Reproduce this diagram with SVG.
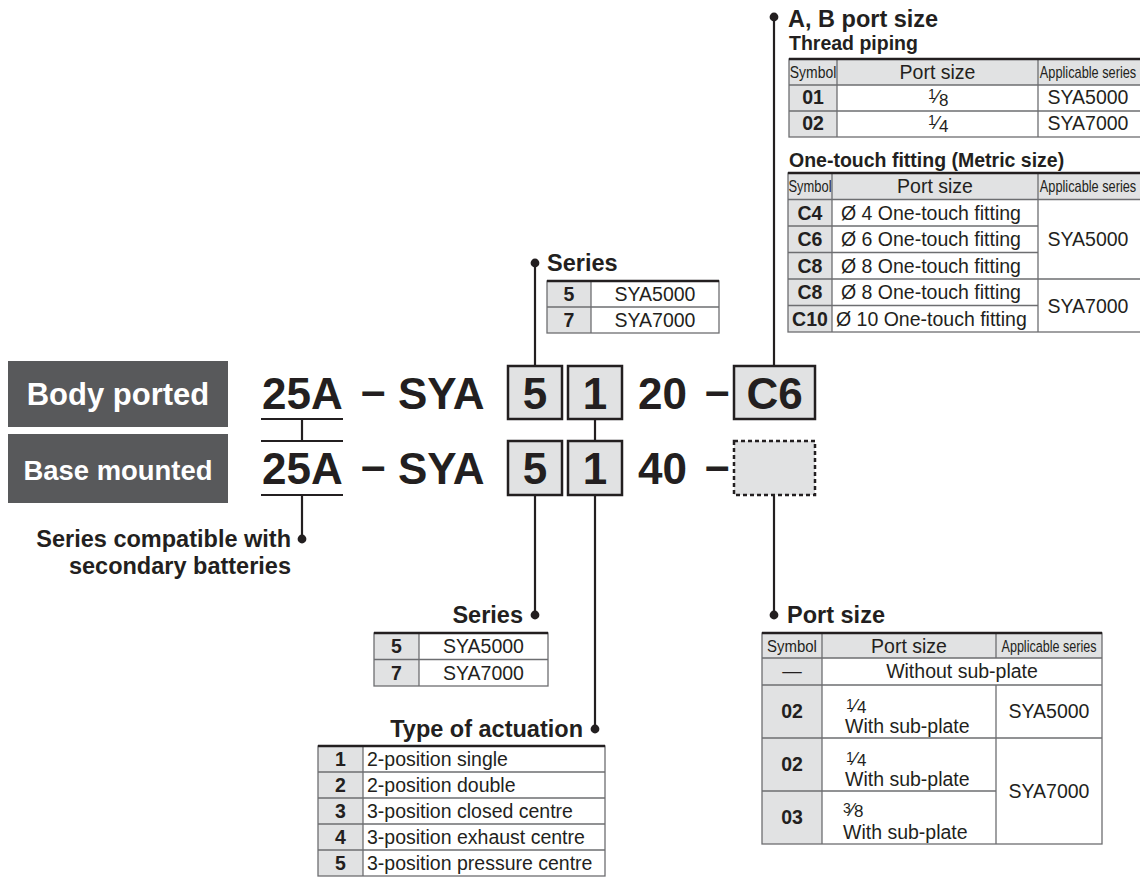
<svg xmlns="http://www.w3.org/2000/svg" width="1140" height="877" viewBox="0 0 1140 877">
<style>
text{font-family:"Liberation Sans",Arial,Helvetica,sans-serif;fill:#231f20}
.code{font-size:44px;font-weight:bold}
.h{font-size:23.5px;font-weight:bold}
.sh{font-size:19.5px;font-weight:bold}
.c{font-size:19.5px}
.cb{font-size:19.5px;font-weight:bold}
.n{font-size:17px}
.fr{font-size:17px}
.m{text-anchor:middle}
.e{text-anchor:end}
.lbl{fill:#58595b}
.lt{fill:#ffffff;font-weight:bold}
.cell{fill:#e1e2e3}
.grid{stroke:#6d6e71;stroke-width:1.3;fill:none}
.top{stroke:#231f20;stroke-width:2.6}
.conn{stroke:#231f20;stroke-width:2.2;fill:none}
.dot{fill:#231f20}
.box{fill:#e1e2e3;stroke:#231f20;stroke-width:2.5}
.dash{stroke-dasharray:4 3}
</style>
<rect width="1140" height="877" fill="#ffffff"/>

<g id="connectors">
<line class="conn" x1="535" y1="263" x2="535" y2="366"/>
<line class="conn" x1="774" y1="17" x2="774" y2="366"/>
<line class="conn" x1="261" y1="419" x2="343" y2="419"/>
<line class="conn" x1="261" y1="441" x2="343" y2="441"/>
<line class="conn" x1="302" y1="419" x2="302" y2="441"/>
<line class="conn" x1="595" y1="419" x2="595" y2="441"/>
<line class="conn" x1="261" y1="495" x2="343" y2="495"/>
<line class="conn" x1="302" y1="495" x2="302" y2="539"/>
<line class="conn" x1="535" y1="495" x2="535" y2="615"/>
<line class="conn" x1="595" y1="495" x2="595" y2="729"/>
<line class="conn" x1="774" y1="495" x2="774" y2="615"/>
<circle class="dot" cx="535" cy="263" r="4.4"/>
<circle class="dot" cx="774" cy="17" r="4.4"/>
<circle class="dot" cx="302" cy="539" r="4.4"/>
<circle class="dot" cx="535" cy="615" r="4.4"/>
<circle class="dot" cx="595" cy="729" r="4.4"/>
<circle class="dot" cx="774" cy="615" r="4.4"/>
</g>

<g id="label-body-ported">
<rect class="lbl" x="8" y="361" width="220" height="66"/>
<text class="lt m" x="118" y="405" font-size="31">Body ported</text>
</g>
<g id="label-base-mounted">
<rect class="lbl" x="8" y="434" width="220" height="69"/>
<text class="lt m" x="118" y="480" font-size="28" textLength="189" lengthAdjust="spacingAndGlyphs">Base mounted</text>
</g>

<g id="code-body-ported">
<text class="code" x="262" y="409">25A</text>
<text class="code" x="361" y="406">–</text>
<text class="code" x="398" y="409">SYA</text>
<rect class="box" x="508" y="366" width="54" height="53"/>
<text class="code m" x="535" y="409">5</text>
<rect class="box" x="568" y="366" width="54" height="53"/>
<text class="code m" x="595" y="409">1</text>
<text class="code" x="638" y="409">20</text>
<text class="code" x="705" y="406">–</text>
<rect class="box" x="734" y="366" width="81" height="53"/>
<text class="code m" x="774.5" y="409">C6</text>
</g>

<g id="code-base-mounted">
<text class="code" x="262" y="484">25A</text>
<text class="code" x="361" y="481">–</text>
<text class="code" x="398" y="484">SYA</text>
<rect class="box" x="508" y="441" width="54" height="54"/>
<text class="code m" x="535" y="484">5</text>
<rect class="box" x="568" y="441" width="54" height="54"/>
<text class="code m" x="595" y="484">1</text>
<text class="code" x="638" y="484">40</text>
<text class="code" x="705" y="481">–</text>
<rect class="box dash" x="734" y="441" width="81" height="54"/>
</g>

<g id="note-secondary-batteries">
<text class="h e" x="291" y="547">Series compatible with</text>
<text class="h e" x="291" y="574">secondary batteries</text>
</g>

<g id="table-series-top">
<text class="h" x="547" y="271">Series</text>
<rect class="cell" x="547" y="281" width="44" height="52"/>
<rect class="grid" x="547" y="281" width="172" height="52"/>
<line class="grid" x1="547" y1="307" x2="719" y2="307"/>
<line class="grid" x1="591" y1="281" x2="591" y2="333"/>
<line class="top" x1="547" y1="281" x2="719" y2="281"/>
<text class="cb m" x="569" y="301">5</text>
<text class="c m" x="655" y="301">SYA5000</text>
<text class="cb m" x="569" y="327">7</text>
<text class="c m" x="655" y="327">SYA7000</text>
</g>

<g id="table-ab-port-size">
<text class="h" x="788" y="27">A, B port size</text>
<text class="sh" x="789" y="50">Thread piping</text>
<rect class="cell" x="789" y="59" width="353" height="26"/>
<rect class="cell" x="789" y="85" width="48" height="52"/>
<rect class="grid" x="789" y="59" width="353" height="78"/>
<line class="grid" x1="789" y1="85" x2="1142" y2="85"/>
<line class="grid" x1="789" y1="111" x2="1142" y2="111"/>
<line class="grid" x1="837" y1="59" x2="837" y2="137"/>
<line class="grid" x1="1038" y1="59" x2="1038" y2="137"/>
<line class="top" x1="789" y1="59" x2="1142" y2="59"/>
<text class="n m" transform="translate(813 78) scale(0.82 1)">Symbol</text>
<text class="c m" x="937.5" y="79">Port size</text>
<text class="n m" transform="translate(1088 78) scale(0.75 1)">Applicable series</text>
<text class="cb m" x="813" y="104">01</text>
<text class="fr" x="928" y="104"><tspan font-size="14" dy="-5">1</tspan><tspan font-size="19" dy="4">⁄</tspan><tspan dy="3">8</tspan></text>
<text class="c m" x="1088" y="104">SYA5000</text>
<text class="cb m" x="813" y="130">02</text>
<text class="fr" x="928" y="130"><tspan font-size="14" dy="-5">1</tspan><tspan font-size="19" dy="4">⁄</tspan><tspan dy="3">4</tspan></text>
<text class="c m" x="1088" y="130">SYA7000</text>

<text class="sh" x="789" y="167">One-touch fitting (Metric size)</text>
<rect class="cell" x="788" y="173" width="354" height="26.5"/>
<rect class="cell" x="788" y="199.5" width="44" height="132.5"/>
<rect class="grid" x="788" y="173" width="354" height="159"/>
<line class="grid" x1="788" y1="199.5" x2="1142" y2="199.5"/>
<line class="grid" x1="788" y1="226" x2="1038" y2="226"/>
<line class="grid" x1="788" y1="252.5" x2="1038" y2="252.5"/>
<line class="grid" x1="788" y1="279" x2="1142" y2="279"/>
<line class="grid" x1="788" y1="305.5" x2="1038" y2="305.5"/>
<line class="grid" x1="832" y1="173" x2="832" y2="332"/>
<line class="grid" x1="1038" y1="173" x2="1038" y2="332"/>
<line class="top" x1="788" y1="173" x2="1142" y2="173"/>
<text class="n m" transform="translate(810 192) scale(0.76 1)">Symbol</text>
<text class="c m" x="935" y="193">Port size</text>
<text class="n m" transform="translate(1088 192) scale(0.75 1)">Applicable series</text>
<text class="cb m" x="810" y="219.5">C4</text>
<text class="c" x="841" y="219.5">Ø 4 One-touch fitting</text>
<text class="cb m" x="810" y="246">C6</text>
<text class="c" x="841" y="246">Ø 6 One-touch fitting</text>
<text class="cb m" x="810" y="272.5">C8</text>
<text class="c" x="841" y="272.5">Ø 8 One-touch fitting</text>
<text class="cb m" x="810" y="299">C8</text>
<text class="c" x="841" y="299">Ø 8 One-touch fitting</text>
<text class="cb m" x="810" y="325.5">C10</text>
<text class="c" x="836" y="325.5">Ø 10 One-touch fitting</text>
<text class="c m" x="1088" y="246">SYA5000</text>
<text class="c m" x="1088" y="312.5">SYA7000</text>
</g>

<g id="table-series-bottom">
<text class="h e" x="523" y="623">Series</text>
<rect class="cell" x="374" y="633" width="45" height="53"/>
<rect class="grid" x="374" y="633" width="174" height="53"/>
<line class="grid" x1="374" y1="659.5" x2="548" y2="659.5"/>
<line class="grid" x1="419" y1="633" x2="419" y2="686"/>
<line class="top" x1="374" y1="633" x2="548" y2="633"/>
<text class="cb m" x="396.5" y="653">5</text>
<text class="c m" x="483.5" y="653">SYA5000</text>
<text class="cb m" x="396.5" y="679.5">7</text>
<text class="c m" x="483.5" y="679.5">SYA7000</text>
</g>

<g id="table-actuation">
<text class="h e" x="583" y="737">Type of actuation</text>
<rect class="cell" x="318" y="746" width="45" height="130"/>
<rect class="grid" x="318" y="746" width="287" height="130"/>
<line class="grid" x1="318" y1="772" x2="605" y2="772"/>
<line class="grid" x1="318" y1="798" x2="605" y2="798"/>
<line class="grid" x1="318" y1="824" x2="605" y2="824"/>
<line class="grid" x1="318" y1="850" x2="605" y2="850"/>
<line class="grid" x1="363" y1="746" x2="363" y2="876"/>
<line class="top" x1="318" y1="746" x2="605" y2="746"/>
<text class="cb m" x="340.5" y="766">1</text>
<text class="c" x="367" y="766">2-position single</text>
<text class="cb m" x="340.5" y="792">2</text>
<text class="c" x="367" y="792">2-position double</text>
<text class="cb m" x="340.5" y="818">3</text>
<text class="c" x="367" y="818">3-position closed centre</text>
<text class="cb m" x="340.5" y="844">4</text>
<text class="c" x="367" y="844">3-position exhaust centre</text>
<text class="cb m" x="340.5" y="870">5</text>
<text class="c" x="367" y="870">3-position pressure centre</text>
</g>

<g id="table-port-size">
<text class="h" x="787" y="623">Port size</text>
<rect class="cell" x="762" y="633" width="340" height="25"/>
<rect class="cell" x="762" y="658" width="60" height="186"/>
<rect class="grid" x="762" y="633" width="340" height="211"/>
<line class="grid" x1="762" y1="658" x2="1102" y2="658"/>
<line class="grid" x1="762" y1="685" x2="1102" y2="685"/>
<line class="grid" x1="762" y1="738" x2="1102" y2="738"/>
<line class="grid" x1="762" y1="791" x2="996" y2="791"/>
<line class="grid" x1="822" y1="633" x2="822" y2="844"/>
<line class="grid" x1="996" y1="633" x2="996" y2="658"/>
<line class="grid" x1="996" y1="685" x2="996" y2="844"/>
<line class="top" x1="762" y1="633" x2="1102" y2="633"/>
<text class="n m" transform="translate(792 652) scale(0.88 1)">Symbol</text>
<text class="c m" x="909" y="653">Port size</text>
<text class="n m" transform="translate(1049 652) scale(0.74 1)">Applicable series</text>
<text class="c m" x="792" y="678">—</text>
<text class="c m" x="962" y="678">Without sub-plate</text>
<text class="cb m" x="792" y="718">02</text>
<text class="fr" x="846" y="713"><tspan font-size="14" dy="-4">1</tspan><tspan font-size="19" dy="3">⁄</tspan><tspan dy="1">4</tspan></text>
<text class="c" x="845" y="733">With sub-plate</text>
<text class="c m" x="1049" y="718">SYA5000</text>
<text class="cb m" x="792" y="771">02</text>
<text class="fr" x="846" y="766"><tspan font-size="14" dy="-4">1</tspan><tspan font-size="19" dy="3">⁄</tspan><tspan dy="1">4</tspan></text>
<text class="c" x="845" y="786">With sub-plate</text>
<text class="cb m" x="792" y="824">03</text>
<text class="fr" x="843" y="817"><tspan font-size="14" dy="-4">3</tspan><tspan font-size="19" dy="3">⁄</tspan><tspan dy="1">8</tspan></text>
<text class="c" x="843" y="839">With sub-plate</text>
<text class="c m" x="1049" y="798">SYA7000</text>
</g>
</svg>
